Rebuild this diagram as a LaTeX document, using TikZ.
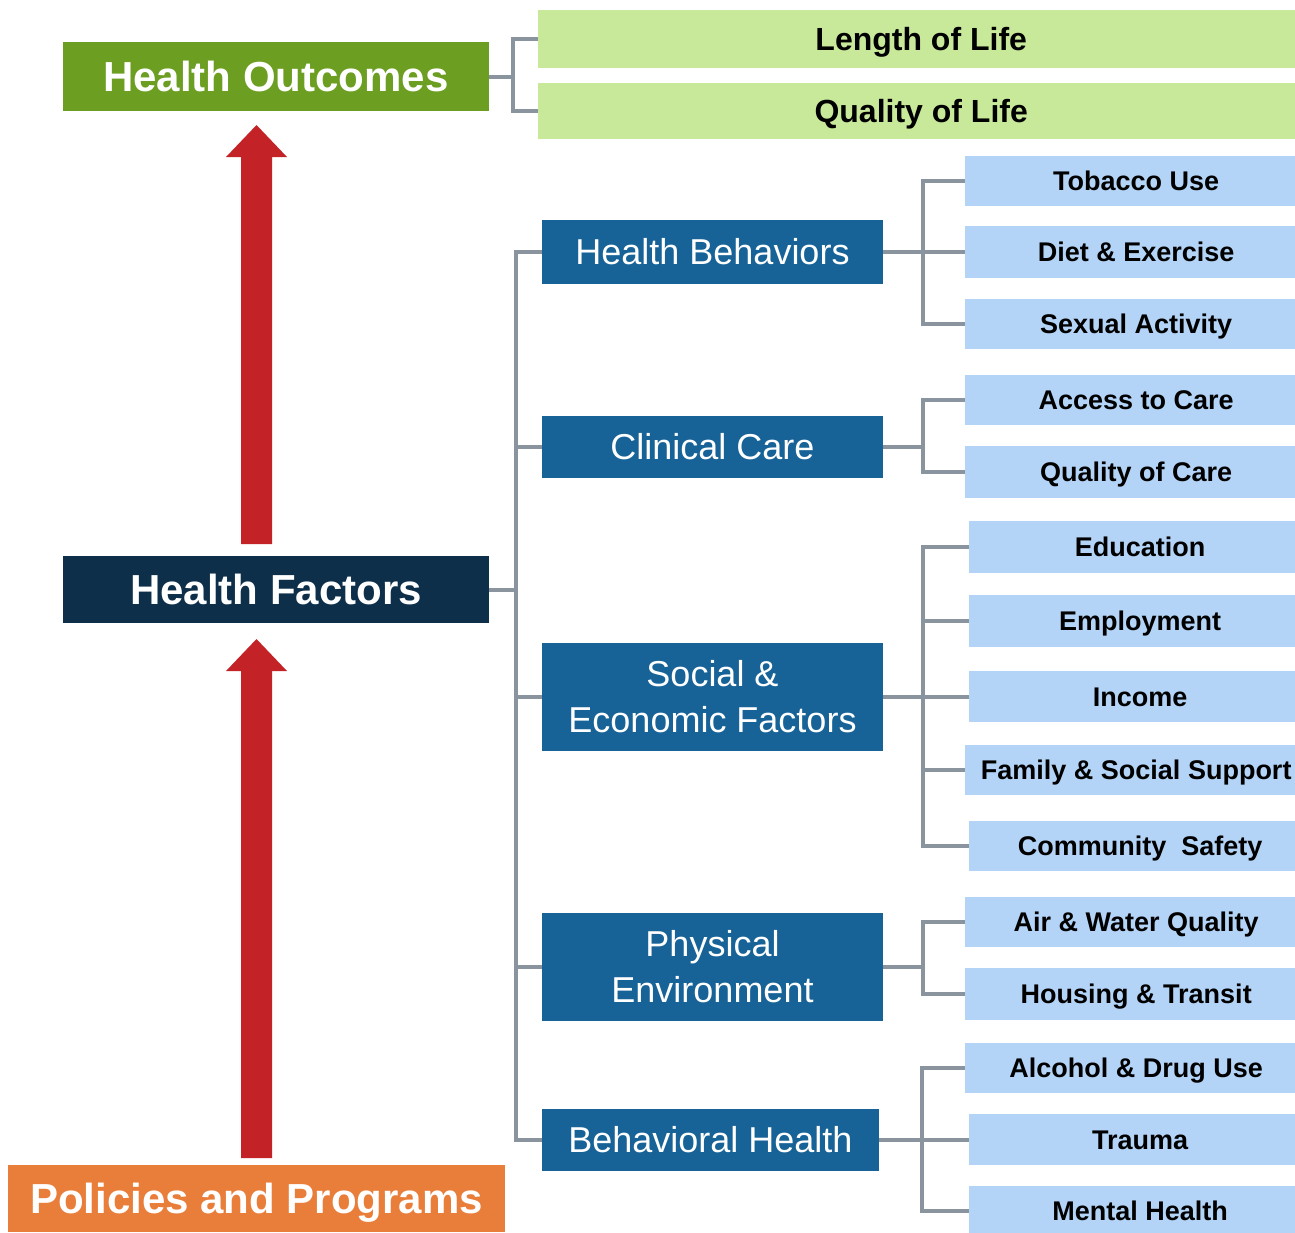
\documentclass[tikz,border=0pt]{standalone}
\usepackage{fontspec}
\setmainfont{Liberation Sans}
\definecolor{hogreen}{HTML}{6C9E21}
\definecolor{navy}{HTML}{0D2F4A}
\definecolor{pporange}{HTML}{E97E3A}
\definecolor{arrowred}{HTML}{C32326}
\definecolor{bluebox}{HTML}{176397}
\definecolor{lightblue}{HTML}{B3D4F7}
\definecolor{lightgreen}{HTML}{C8E89A}
\definecolor{conncol}{HTML}{8A949E}
\begin{document}
\begin{tikzpicture}[x=1pt,y=1pt,
  box/.style={rectangle, inner sep=0pt},
  bigbox/.style={box, minimum width=426pt, text=white,
    font=\fontsize{42pt}{50pt}\bfseries\selectfont, text height=30pt, text depth=0pt},
  greenbar/.style={box, anchor=west, fill=lightgreen, minimum width=766pt, text=black,
    font=\fontsize{32pt}{38pt}\bfseries\selectfont, text height=22.9pt, text depth=0pt},
  midbox/.style={box, fill=bluebox, minimum width=341pt, text=white,
    font=\fontsize{36pt}{46pt}\selectfont},
  midone/.style={midbox, text height=25.8pt, text depth=0pt},
  leaf/.style={box, anchor=west, fill=lightblue, minimum width=342pt, text=black,
    font=\fontsize{27pt}{32pt}\bfseries\selectfont, text height=19.3pt, text depth=0pt},
  conn/.style={draw=conncol, line width=4pt, line join=miter}
]
\useasboundingbox (0,0) rectangle (1295,-1232);

% left column
\node[bigbox, fill=hogreen, minimum height=69pt] (ho) at (276,-76.5) {Health Outcomes};
\node[bigbox, fill=navy, minimum height=67pt] (hf) at (276,-589.5) {Health Factors};
\node[bigbox, fill=pporange, minimum width=497pt, minimum height=67pt] (pp) at (256.5,-1198.5) {Policies and Programs};

% big arrows
\fill[arrowred] (241,-544) -- (241,-157) -- (226,-157) -- (256.5,-125) -- (287,-157) -- (272,-157) -- (272,-544) -- cycle;
\fill[arrowred] (241,-1158) -- (241,-671) -- (226,-671) -- (256.5,-639) -- (287,-671) -- (272,-671) -- (272,-1158) -- cycle;

% outcomes
\node[greenbar, minimum height=58pt] (ll) at (538,-39) {Length of Life};
\node[greenbar, minimum height=56pt] (ql) at (538,-111) {Quality of Life};

% factors
\node[midone, minimum height=64pt] (hb) at (712.5,-252) {Health Behaviors};
\node[midone, minimum height=62pt] (cc) at (712.5,-447) {Clinical Care};
\node[midbox, minimum height=108pt, align=center] (se) at (712.5,-697) {Social \&\\Economic Factors};
\node[midbox, minimum height=108pt, align=center] (pe) at (712.5,-967) {Physical\\Environment};
\node[midone, minimum width=337pt, minimum height=62pt] (bh) at (710.5,-1140) {Behavioral Health};

% leaves
\node[leaf, minimum height=50pt] (tu) at (965,-181) {Tobacco Use};
\node[leaf, minimum height=52pt] (de) at (965,-252) {Diet \& Exercise};
\node[leaf, minimum height=50pt] (sa) at (965,-324) {Sexual Activity};
\node[leaf, minimum height=50pt] (ac) at (965,-400) {Access to Care};
\node[leaf, minimum height=52pt] (qc) at (965,-472) {Quality of Care};
\node[leaf, minimum height=52pt] (ed) at (969,-547) {Education};
\node[leaf, minimum height=52pt] (em) at (969,-621) {Employment};
\node[leaf, minimum height=51pt] (in) at (969,-696.5) {Income};
\node[leaf, minimum height=50pt] (fs) at (965,-770) {Family \& Social Support};
\node[leaf, minimum height=50pt] (cs) at (969,-846) {Community\ \ Safety};
\node[leaf, minimum height=50pt] (aw) at (965,-922) {Air \& Water Quality};
\node[leaf, minimum height=52pt] (ht) at (965,-994) {Housing \& Transit};
\node[leaf, minimum height=50pt] (ad) at (965,-1068) {Alcohol \& Drug Use};
\node[leaf, minimum height=51pt] (tr) at (969,-1139.5) {Trauma};
\node[leaf, minimum height=50pt] (mh) at (969,-1211) {Mental Health};

% junctions
\coordinate (jo) at (513,-76.5);
\coordinate (jf) at (516,-589.5);
\coordinate (j1) at (923,-252);
\coordinate (j2) at (923,-447);
\coordinate (j3) at (923,-697);
\coordinate (j4) at (923,-967);
\coordinate (j5) at (922,-1140);

% connectors
\draw[conn] (ho.east) -- (jo);
\draw[conn] (ll.west) -| (jo) |- (ql.west);

\draw[conn] (hf.east) -- (jf);
\draw[conn] (hb.west) -| (jf) |- (bh.west);
\draw[conn] (jf |- cc.west) -- (cc.west);
\draw[conn] (jf |- se.west) -- (se.west);
\draw[conn] (jf |- pe.west) -- (pe.west);

\draw[conn] (hb.east) -- (j1);
\draw[conn] (tu.west) -| (j1) |- (sa.west);
\draw[conn] (j1) -- (de.west);

\draw[conn] (cc.east) -- (j2);
\draw[conn] (ac.west) -| (j2) |- (qc.west);

\draw[conn] (se.east) -- (j3);
\draw[conn] (ed.west) -| (j3) |- (cs.west);
\draw[conn] (j3 |- em.west) -- (em.west);
\draw[conn] (j3 |- in.west) -- (in.west);
\draw[conn] (j3 |- fs.west) -- (fs.west);

\draw[conn] (pe.east) -- (j4);
\draw[conn] (aw.west) -| (j4) |- (ht.west);

\draw[conn] (bh.east) -- (j5);
\draw[conn] (ad.west) -| (j5) |- (mh.west);
\draw[conn] (j5 |- tr.west) -- (tr.west);
\end{tikzpicture}
\end{document}
